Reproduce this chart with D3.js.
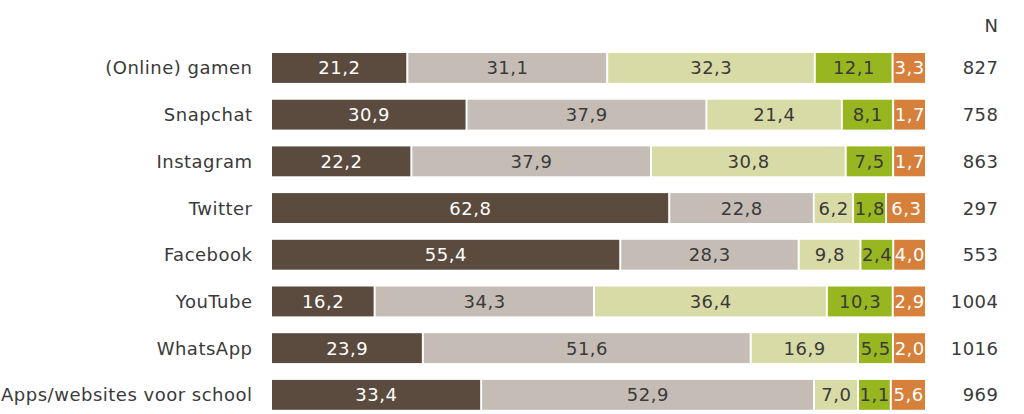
<!DOCTYPE html>
<html><head><meta charset="utf-8">
<script src="https://cdn.jsdelivr.net/npm/d3@7"></script>
<style>html,body{margin:0;padding:0;background:#fff;}svg{display:block;}</style>
</head><body>
<svg id="chart" width="1024" height="414"></svg>
<script>
const categories = ["(Online) gamen","Snapchat","Instagram","Twitter","Facebook","YouTube","WhatsApp","Apps/websites voor school"];
const seg1 = [21.2,30.9,22.2,62.8,55.4,16.2,23.9,33.4];
const seg2 = [31.1,37.9,37.9,22.8,28.3,34.3,51.6,52.9];
const seg3 = [32.3,21.4,30.8,6.2,9.8,36.4,16.9,7.0];
const seg4 = [12.1,8.1,7.5,1.8,2.4,10.3,5.5,1.1];
const seg5 = [3.3,1.7,1.7,6.3,4.0,2.9,2.0,5.6];
const nValues = [827,758,863,297,553,1004,1016,969];
const segColors = ["#5a4b3e","#c5bdb5","#d9dba6","#98b61f","#d6803b"];
const labelColors = ["#ffffff","#3a3a3a","#3a3a3a","#3a3a3a","#ffffff"];
const minShare = 5.2;

const svg = d3.select("#chart");
const font = "Verdana, 'DejaVu Sans', sans-serif";
const ls = 0.5;
const series = [seg1,seg2,seg3,seg4,seg5];

const y = d3.scaleBand().domain(categories).range([44.6, 418.2]).paddingInner(0.36).paddingOuter(0.18);
const x0 = 272, x1 = 925, gap = 2;
const fmt = v => d3.format(".1f")(v).replace(".", ",");

categories.forEach((cat, i) => {
  const vals = series.map(s => s[i]);
  const widths = vals.map(v => Math.max(v, minShare));
  const total = d3.sum(widths);
  const x = d3.scaleLinear().domain([0, total]).range([x0, x1 + gap]);
  let cum = 0;
  const g = svg.append("g");
  vals.forEach((v, j) => {
    const s = cum, e = cum + widths[j];
    cum = e;
    const xa = x(s), xb = x(e) - gap;
    g.append("rect").attr("x", xa).attr("y", y(cat)).attr("width", xb - xa).attr("height", y.bandwidth()).attr("fill", segColors[j]);
    g.append("text").attr("x", (xa + xb) / 2 + ls / 2).attr("y", y(cat) + y.bandwidth() / 2).attr("dy", "0.36em")
      .attr("text-anchor", "middle").attr("fill", labelColors[j]).attr("font-family", font).attr("font-size", 18)
      .attr("letter-spacing", ls).text(fmt(v));
  });
  svg.append("text").attr("x", 252 + ls).attr("y", y(cat) + y.bandwidth() / 2).attr("dy", "0.36em")
    .attr("text-anchor", "end").attr("fill", "#3a3a3a").attr("font-family", font).attr("font-size", 18)
    .attr("letter-spacing", ls).text(cat);
  svg.append("text").attr("x", 998 + ls).attr("y", y(cat) + y.bandwidth() / 2).attr("dy", "0.36em")
    .attr("text-anchor", "end").attr("fill", "#3a3a3a").attr("font-family", font).attr("font-size", 18)
    .attr("letter-spacing", ls).text(nValues[i]);
});
svg.append("text").attr("x", 998).attr("y", 26).attr("dy", "0.36em").attr("text-anchor", "end")
  .attr("fill", "#3a3a3a").attr("font-family", font).attr("font-size", 18).text("N");
</script>
</body></html>
